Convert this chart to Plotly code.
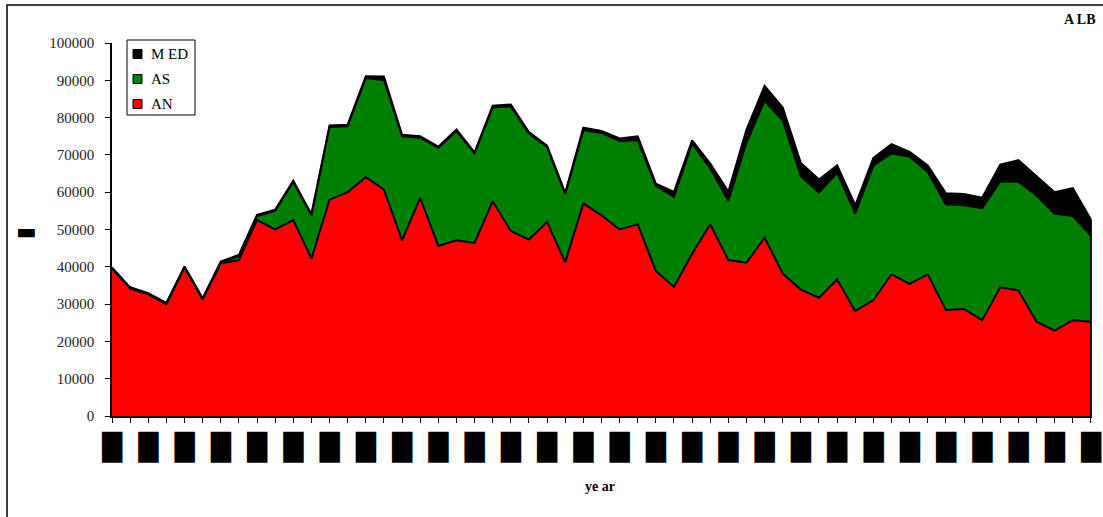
import plotly.graph_objects as go

years = list(range(1950, 2005))

AN = [39500, 34200, 32600, 30000, 39800, 31300, 40900, 41800, 52500, 50000,
      52500, 42200, 58000, 60000, 64100, 60700, 47100, 58500, 45600, 47100,
      46400, 57600, 49600, 47300, 52000, 41200, 57000, 53800, 50000, 51400,
      38900, 34600, 43500, 51400, 41800, 41100, 47800, 38200, 33900, 31700,
      36600, 28100, 31100, 38000, 35400, 38000, 28400, 28700, 25700, 34500,
      33700, 25300, 22900, 25700, 25300]

AS = [100, 100, 100, 100, 100, 100, 200, 1100, 1100, 5000,
      10300, 11600, 19500, 17700, 26500, 29300, 27900, 16100, 26300, 29300,
      24000, 25100, 33400, 28400, 20100, 18300, 19600, 22100, 23700, 22500,
      22800, 24200, 29500, 15000, 15900, 32200, 36700, 41000, 30400, 28200,
      28600, 26200, 36100, 32400, 34100, 27400, 28300, 27800, 30000, 28400,
      29100, 33800, 31300, 27900, 23100]

MED = [200, 200, 200, 200, 200, 200, 300, 300, 300, 300,
       300, 300, 400, 400, 500, 1000, 400, 400, 300, 400,
       300, 500, 500, 400, 400, 300, 700, 500, 700, 1100,
       600, 1300, 900, 1300, 2500, 3500, 4000, 3500, 3500, 3500,
       2000, 2200, 2000, 2500, 1300, 1800, 3000, 3000, 2800, 4500,
       5800, 5300, 5800, 7500, 4300]

label_years = years[::2]
label_text = ["\u2588"] * len(label_years)

SERIF = "Liberation Serif, Times New Roman, serif"
series = [("AN", AN, "#FF0000"), ("AS", AS, "#008000"), ("MED", MED, "#000000")]
legend_labels = {"AN": "AN", "AS": "AS", "MED": "M ED"}

W, H = 1103, 517
ML, MR, MT, MB = 112, 11, 43, 101
PW, PH = W - ML - MR, H - MT - MB


def px(xp):
    return (xp - ML) / PW


def py(yp):
    return (H - MB - yp) / PH


fig = go.Figure()
for name, vals, col in series:
    fig.add_trace(go.Scatter(
        x=years, y=vals, name=name, stackgroup="one", mode="lines",
        line=dict(color="black", width=2), fillcolor=col, showlegend=False,
    ))

total_last = AN[-1] + AS[-1] + MED[-1]
fig.add_trace(go.Scatter(x=[years[-1], years[-1]], y=[0, total_last], mode="lines",
                         line=dict(color="black", width=2), showlegend=False, hoverinfo="skip"))

fig.update_layout(
    width=W, height=H,
    margin=dict(l=ML, r=MR, t=MT, b=MB, autoexpand=False),
    paper_bgcolor="white", plot_bgcolor="white",
    showlegend=False,
    font=dict(family=SERIF, color="black"),
)

fig.update_xaxes(
    range=[years[0], years[-1] + 0.06], automargin=False,
    tickmode="array", tickvals=label_years, ticktext=label_text,
    ticks="outside", ticklen=5, tickcolor="black", tickwidth=1,
    minor=dict(ticks="outside", ticklen=5, dtick=1, tick0=years[0], tickcolor="black", showgrid=False),
    tickfont=dict(family="DejaVu Sans", size=26, color="black"),
    ticklabelstandoff=2,
    tickangle=0,
    showline=True, linecolor="black", linewidth=1.5,
    showgrid=False, zeroline=False,
)
fig.update_yaxes(
    range=[0, 100000], dtick=10000, tickformat="d", automargin=False,
    ticks="outside", ticklen=5, tickcolor="black",
    tickfont=dict(family=SERIF, size=15, color="#222222"),
    ticklabelstandoff=8,
    showline=True, linecolor="black", linewidth=1.5,
    showgrid=False, zeroline=False,
)

# titles
fig.add_annotation(text="<b>A LB</b>", xref="paper", yref="paper", x=px(1098), y=py(20),
                   xanchor="right", yanchor="middle", showarrow=False,
                   font=dict(family=SERIF, size=14, color="black"))
fig.add_annotation(text="<b>ye ar</b>", xref="paper", yref="paper", x=px(600), y=py(487),
                   xanchor="center", yanchor="middle", showarrow=False,
                   font=dict(family=SERIF, size=14, color="black"))
fig.add_annotation(text="\u25ac", xref="paper", yref="paper", x=px(26), y=py(231),
                   xanchor="center", yanchor="middle", showarrow=False,
                   font=dict(family="DejaVu Sans", size=22, color="black"))

# outer frame
fig.add_shape(type="rect", xref="paper", yref="paper", x0=px(7), x1=px(1200), y0=py(600), y1=py(5),
              line=dict(color="black", width=1.5), fillcolor="rgba(0,0,0,0)", layer="below")

# legend (box, swatches, labels)
fig.add_shape(type="rect", xref="paper", yref="paper", x0=px(127), x1=px(195), y0=py(115), y1=py(40),
              line=dict(color="black", width=1), fillcolor="white", layer="above")
for i, (name, vals, col) in enumerate(reversed(series)):
    cy = 54 + 25 * i
    fig.add_shape(type="rect", xref="paper", yref="paper",
                  x0=px(133), x1=px(142), y0=py(cy + 4.5), y1=py(cy - 4.5),
                  line=dict(color="black", width=1), fillcolor=col, layer="above")
    fig.add_annotation(text=legend_labels[name], xref="paper", yref="paper", x=px(149), y=py(cy),
                       xanchor="left", yanchor="middle", showarrow=False,
                       font=dict(family=SERIF, size=15, color="black"))

fig.write_html("out.html", config={"displayModeBar": False},
               post_script="document.body.style.margin='0px';document.body.style.overflow='hidden';")
